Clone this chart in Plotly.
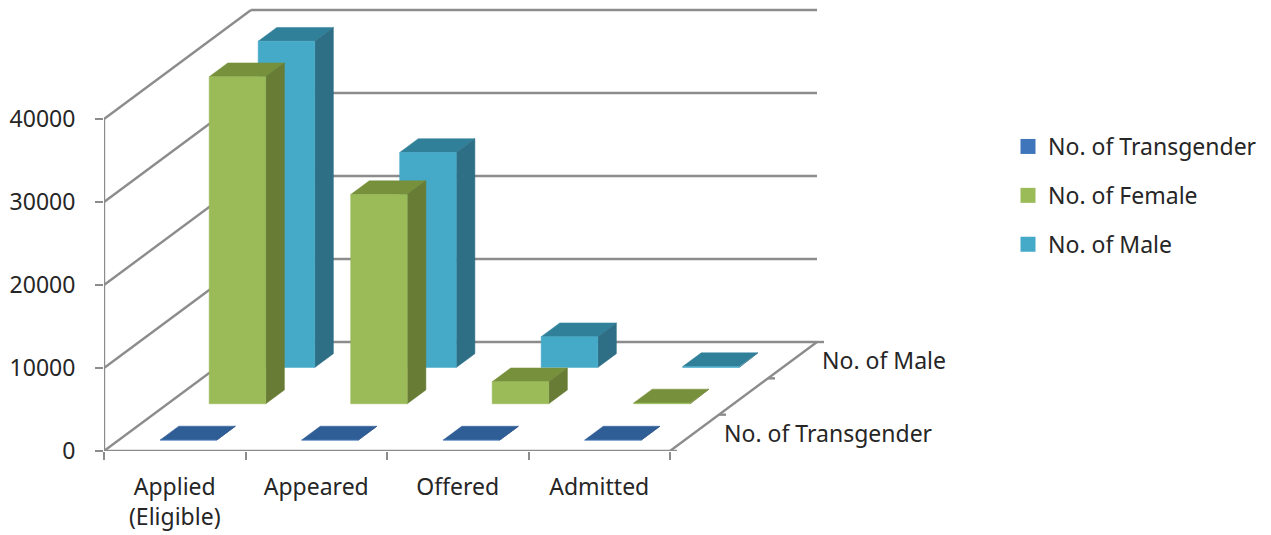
import plotly.graph_objects as go

categories = ["Applied<br>(Eligible)", "Appeared", "Offered", "Admitted"]
transgender = [15, 10, 5, 5]
female = [39400, 25200, 2650, 100]
male = [39300, 25900, 3700, 100]
y_ticks = [0, 10000, 20000, 30000, 40000]
series_names = ["No. of Transgender", "No. of Female", "No. of Male"]
depth_labels = ["No. of Transgender", None, "No. of Male"]

FONT = "Noto Sans"
TEXT = "#262626"
AXIS = "#8c8c8c"
PX_CAT = 141.5
PX_VAL = 83 / 10000
DX = 49 / PX_CAT          # category units per series of depth
DY = 36.33 / PX_VAL       # value units per series of depth
BAR_W = 0.40
BAR_C = 0.493
BAR_D0, BAR_D = 0.30, 0.38


def proj(c, d, v):
    return c + d * DX, v + d * DY


def poly(points):
    xs, ys = [], []
    for c, d, v in points:
        x, y = proj(c, d, v)
        xs.append(x)
        ys.append(y)
    xs.append(xs[0])
    ys.append(ys[0])
    return xs, ys


def faces(values, s):
    out = {"front": ([], []), "side": ([], []), "top": ([], [])}
    d0, d1 = s + BAR_D0, s + BAR_D0 + BAR_D
    for i, v in enumerate(values):
        c0, c1 = i + BAR_C - BAR_W / 2, i + BAR_C + BAR_W / 2
        shapes = {
            "front": [(c0, d0, 0), (c1, d0, 0), (c1, d0, v), (c0, d0, v)],
            "side": [(c1, d0, 0), (c1, d1, 0), (c1, d1, v), (c1, d0, v)],
            "top": [(c0, d0, v), (c1, d0, v), (c1, d1, v), (c0, d1, v)],
        }
        for k, pts in shapes.items():
            xs, ys = poly(pts)
            out[k][0].extend(xs + [None])
            out[k][1].extend(ys + [None])
    return out


fig = go.Figure()

# frame and gridlines
gx, gy = [], []


def seg(a, b):
    xa, ya = proj(*a)
    xb, yb = proj(*b)
    gx.extend([xa, xb, None])
    gy.extend([ya, yb, None])


for v in y_ticks:
    seg((0, 0, v), (0, 3, v))
    seg((0, 3, v), (4, 3, v))
seg((0, 0, 0), (0, 0, y_ticks[-1]))
seg((0, 0, 0), (4, 0, 0))
seg((4, 0, 0), (4, 3, 0))
for d in range(4):
    seg((4, d, 0), (4 + 7 / PX_CAT, d, 0))
fig.add_trace(go.Scatter(x=gx, y=gy, mode="lines", line=dict(color=AXIS, width=2.4),
                         showlegend=False, hoverinfo="skip", cliponaxis=False))

# bars, back to front
styles = [
    (male, 2, "#45a9c8", "#2e6f86", "#31809a"),
    (female, 1, "#9bbb59", "#687c35", "#76903c"),
    (transgender, 0, "#4f81bd", "#2b5388", "#2f5d95"),
]
for values, s, cf, cs, ct in styles:
    f = faces(values, s)
    for key, col in (("top", ct), ("side", cs), ("front", cf)):
        fig.add_trace(go.Scatter(x=f[key][0], y=f[key][1], mode="lines", fill="toself",
                                 fillcolor=col, line=dict(color=col, width=0.5),
                                 showlegend=False, hoverinfo="skip"))

# legend
for name, col in zip(series_names, ["#3f76bb", "#9bbb59", "#45a9c8"]):
    fig.add_trace(go.Scatter(x=[None], y=[None], mode="markers", name=name, legendgroup=name,
                             marker=dict(symbol="square", size=15, color=col)))

# depth-axis labels
annotations = []
for s, label in enumerate(depth_labels):
    if label:
        x, y = proj(4, s + 0.5, 0)
        annotations.append(dict(x=x, y=y, xref="x", yref="y", text=label, showarrow=False,
                                xanchor="left", yanchor="middle", xshift=27,
                                font=dict(family=FONT, size=23, color=TEXT)))

fig.update_layout(
    width=1271, height=535, autosize=False,
    margin=dict(l=104, r=441, t=0, b=84, pad=0),
    paper_bgcolor="white", plot_bgcolor="white",
    font=dict(family=FONT, size=23, color=TEXT),
    showlegend=True,
    legend=dict(x=(1008 - 104) / 726, xanchor="left", y=(451 - 125) / 451, yanchor="top",
                tracegroupgap=16, font=dict(family=FONT, size=23, color=TEXT),
                bgcolor="rgba(0,0,0,0)", traceorder="grouped"),
    annotations=annotations,
    xaxis=dict(range=[0, 726 / PX_CAT], tickmode="array", tickvals=[0.5, 1.5, 2.5, 3.5],
               ticktext=categories, ticks="", ticklabelstandoff=20, showgrid=False,
               zeroline=False, showline=False,
               minor=dict(tickmode="array", tickvals=[0, 1, 2, 3, 4], ticks="outside",
                          ticklen=8, tickwidth=2, tickcolor=AXIS, showgrid=False)),
    yaxis=dict(range=[0, 451 / PX_VAL], tickmode="array", tickvals=y_ticks,
               ticktext=[str(t) for t in y_ticks], ticks="outside",
               ticklen=8, tickwidth=2, tickcolor=AXIS, showgrid=False, zeroline=False,
               showline=False, ticklabelstandoff=15, tickfont=dict(family=FONT, size=23, color=TEXT)),
)

fig.write_html("out.html", config=dict(displayModeBar=False),
               post_script="document.body.style.margin='0';document.body.style.overflow='hidden';")
